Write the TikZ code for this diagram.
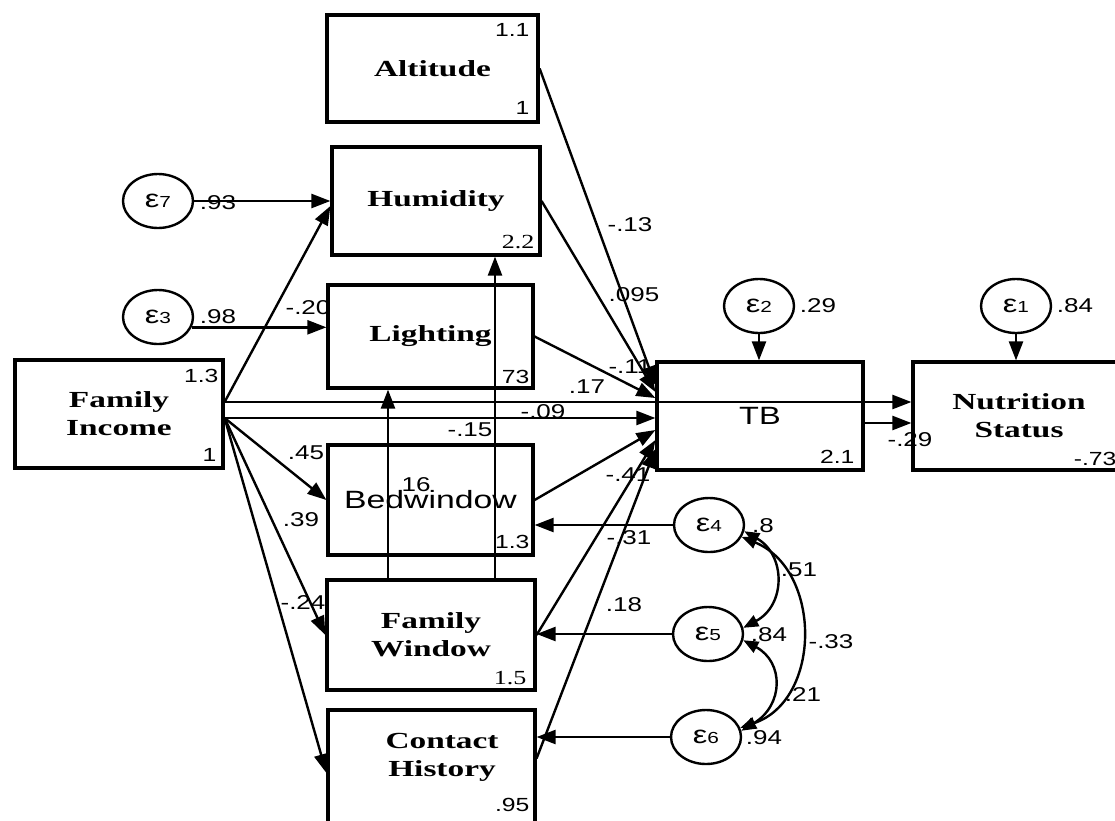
\documentclass[tikz,border=0pt]{standalone}
\usepackage{fontspec}
\setmainfont{Liberation Serif}
\newfontfamily\arialf{Liberation Sans}
\usepackage{graphicx}
\usetikzlibrary{arrows.meta,shapes.geometric}
\newcommand{\Swide}[1]{\scalebox{1.45}[1]{#1}}
\newcommand{\Awide}[1]{\scalebox{1.3}[1]{#1}}
\newcommand{\epsl}[1]{\Awide{{\arialf\fontsize{25}{25}\selectfont ε}{\arialf\fontsize{16}{16}\selectfont #1}}}
\tikzset{
 box/.style={draw, line width=3.2pt, inner sep=0pt, align=center, font=\fontsize{23}{28}\selectfont\bfseries},
 boxtext/.style={inner sep=0pt, align=center, font=\fontsize{23}{28}\selectfont\bfseries},
 err/.style={draw, ellipse, line width=2.4pt, minimum width=70pt, minimum height=54pt, inner sep=0pt},
 pth/.style={line width=2.4pt, -{Triangle[length=19pt,width=14pt]}},
 cov/.style={line width=2.4pt, {Triangle[length=15pt,width=12pt]}-{Triangle[length=15pt,width=12pt]}},
 lbl/.style={inner sep=0pt, font=\arialf\fontsize{20}{20}\selectfont},
 num/.style={inner sep=0pt, font=\arialf\fontsize{19}{19}\selectfont},
 snum/.style={inner sep=0pt, font=\fontsize{20}{20}\selectfont},
}
\begin{document}
\begin{tikzpicture}[x=1pt,y=-1pt]
\useasboundingbox (0,0) rectangle (1115,820);
% boxes
\node[box, minimum width=211pt, minimum height=107pt] (alt) at (432.5,68.5) {\Swide{Altitude}};
\node[box, minimum width=208pt, minimum height=108pt] (hum) at (436,201) {\raisebox{5pt}{\Swide{Humidity}}};
\node[box, minimum width=205pt, minimum height=103pt] (lig) at (430.5,336.5) {\raisebox{6pt}{\Swide{Lighting}}};
\node[box, minimum width=208pt, minimum height=108pt] (fi) at (119,414) {\Swide{Family}\\\Swide{Income}};
\node[box, minimum width=205pt, minimum height=110pt, font=\arialf\fontsize{25}{25}\selectfont] (bed) at (430.5,500) {\scalebox{1.35}[1]{Bedwindow}};
\node[box, minimum width=208pt, minimum height=110pt] (fw) at (431,635) {\Swide{Family}\\\Swide{Window}};
\node[box, minimum width=207pt, minimum height=120pt] (ch) at (431.5,770) {};
\node[boxtext] (cht) at (442,757) {\Swide{Contact}\\\Swide{History}};
\node[box, minimum width=206pt, minimum height=108pt, font=\arialf\fontsize{25}{25}\selectfont] (tb) at (760,416) {\Awide{TB}};
\node[box, minimum width=212pt, minimum height=108pt] (ns) at (1019,416) {\Swide{Nutrition}\\\Swide{Status}};
% numbers inside boxes
\node[num, anchor=north east] (altn1) at ([xshift=-10pt,yshift=-10pt]alt.north east) {\Awide{1.1}};
\node[num, anchor=south east] (altn2) at ([xshift=-10pt,yshift=9pt]alt.south east) {\Awide{1}};
\node[snum, anchor=south east] (humn) at ([xshift=-7pt,yshift=8pt]hum.south east) {\Awide{2.2}};
\node[num, anchor=south east] (lign) at ([xshift=-5pt,yshift=6pt]lig.south east) {\Awide{73}};
\node[num, anchor=north east] (fin1) at ([xshift=-6pt,yshift=-11pt]fi.north east) {\Awide{1.3}};
\node[num, anchor=south east] (fin2) at ([xshift=-8pt,yshift=8pt]fi.south east) {\Awide{1}};
\node[num, anchor=south east] (bedn) at ([xshift=-5pt,yshift=8pt]bed.south east) {\Awide{1.3}};
\node[snum, anchor=south east] (fwn) at ([xshift=-10pt,yshift=7pt]fw.south east) {\Awide{1.5}};
\node[num, anchor=south east] (chn) at ([xshift=-7pt,yshift=-103pt]ch.north east) {\Awide{.95}};
\node[num, anchor=south east] (tbn) at ([xshift=-10pt,yshift=8pt]tb.south east) {\Awide{2.1}};
\node[num, anchor=south east] (nsn) at ([xshift=-10pt,yshift=6pt]ns.south east) {\Awide{-.73}};
% error terms
\node[err] (e7) at (158,201) {\epsl{7}};
\node[err] (e3) at (158,317) {\epsl{3}};
\node[err] (e2) at (759,306) {\epsl{2}};
\node[err] (e1) at (1016,306) {\epsl{1}};
\node[err] (e4) at (709,525) {\epsl{4}};
\node[err] (e5) at (708,634) {\epsl{5}};
\node[err] (e6) at (706,737) {\epsl{6}};
% edge labels
\node[lbl] (l93) at (218,203) {\Awide{.93}};
\node[lbl] (l98) at (218,317) {\Awide{.98}};
\node[lbl] (l20) at (308,308) {\Awide{-.20}};
\node[lbl] (l45) at (306,453) {\Awide{.45}};
\node[lbl] (l39) at (301,520) {\Awide{.39}};
\node[lbl] (l24) at (303,603) {\Awide{-.24}};
\node[lbl] (l16) at (416,485) {\Awide{16}};
\node[lbl] (l15) at (470,430) {\Awide{-.15}};
\node[lbl] (l09) at (543,412) {\Awide{-.09}};
\node[lbl] (l17) at (587,387) {\Awide{.17}};
\node[lbl] (l11) at (630,367) {\Awide{-.11}};
\node[lbl] (l095) at (634,295) {\Awide{.095}};
\node[lbl] (l13) at (630,225) {\Awide{-.13}};
\node[lbl] (l41) at (628,475) {\Awide{-.41}};
\node[lbl] (l31) at (629,538) {\Awide{-.31}};
\node[lbl] (l18) at (624,605) {\Awide{.18}};
\node[lbl] (l8) at (763,526) {\Awide{.8}};
\node[lbl] (l51) at (799,570) {\Awide{.51}};
\node[lbl] (l84a) at (769,635) {\Awide{.84}};
\node[lbl] (l33) at (831,642) {\Awide{-.33}};
\node[lbl] (l21) at (803,695) {\Awide{.21}};
\node[lbl] (l94) at (764,738) {\Awide{.94}};
\node[lbl] (l29) at (818,306) {\Awide{.29}};
\node[lbl] (l84b) at (1075,306) {\Awide{.84}};
\node[lbl] (l29b) at (910,440) {\Awide{-.29}};
% paths
\draw[pth] (e7.east) -- (e7.east -| hum.west);
\draw[pth] (e3.-17) -- (e3.-17 -| lig.west);
\draw[pth] ([yshift=12pt]fi.east) -- ([yshift=-5pt]hum.west);
\draw[pth] ([yshift=12pt]fi.east) -- ([yshift=12pt]fi.east -| ns.west);
\draw[pth] ([yshift=-4pt]fi.east) -- ([yshift=-4pt]fi.east -| tb.west);
\draw[pth] ([yshift=-4pt]fi.east) -- (bed.west);
\draw[pth] ([yshift=-4pt]fi.east) -- (fw.west);
\draw[pth] ([yshift=-4pt]fi.east) -- ([yshift=-3pt]ch.west);
\draw[pth] ([xshift=-43pt]fw.north) -- ([xshift=-43pt]fw.north |- lig.south);
\draw[pth] ([xshift=64pt]fw.north) -- ([xshift=64pt]fw.north |- hum.south);
\draw[pth] (alt.east) -- ([yshift=31pt]tb.west);
\draw[pth] (hum.east) -- ([yshift=24pt]tb.west);
\draw[pth] (lig.east) -- ([yshift=18pt]tb.west);
\draw[pth] (bed.east) -- ([yshift=-14pt]tb.west);
\draw[pth] (fw.east) -- ([yshift=-24pt]tb.west);
\draw[pth] ([yshift=-50pt]ch.north east) -- ([yshift=-33pt]tb.west);
\draw[pth] (e4.west) -- (e4.west -| bed.east);
\draw[pth] (e5.west) -- (e5.west -| fw.east);
\draw[pth] (e6.west) -- (e6.west -| ch.east);
\draw[pth] (e2.south) -- (e2.south |- tb.north);
\draw[pth] (e1.south) -- (e1.south |- ns.north);
\draw[pth] ([yshift=-7pt]tb.east) -- ([yshift=-7pt]tb.east -| ns.west);
% covariances
\draw[cov] (e4.-10) .. controls (786,555) and (786,605) .. (e5.10);
\draw[cov] (e5.-10) .. controls (784,662) and (784,705) .. (e6.10);
\draw[cov] (e4.-20) .. controls (822,570) and (822,700) .. (e6.15);
\end{tikzpicture}
\end{document}
